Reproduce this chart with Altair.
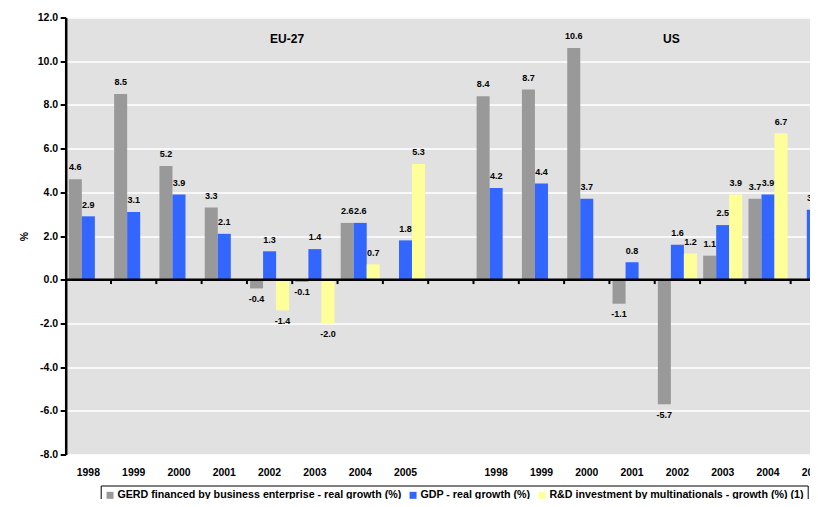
import altair as alt
import pandas as pd

years = ["1998", "1999", "2000", "2001", "2002", "2003", "2004", "2005"]
series = [
    "GERD financed by business enterprise - real growth (%)",
    "GDP - real growth (%)",
    "R&D investment by multinationals - growth (%) (1)",
]
colors = ["#999999", "#3366FF", "#FFFF99"]

eu_gerd = [4.6, 8.5, 5.2, 3.3, -0.4, -0.1, 2.6, None]
eu_gdp = [2.9, 3.1, 3.9, 2.1, 1.3, 1.4, 2.6, 1.8]
eu_mnc = [None, None, None, None, -1.4, -2.0, 0.7, 5.3]
us_gerd = [8.4, 8.7, 10.6, -1.1, -5.7, 1.1, 3.7, None]
us_gdp = [4.2, 4.4, 3.7, 0.8, 1.6, 2.5, 3.9, 3.2]
us_mnc = [None, None, None, None, 1.2, 3.9, 6.7, None]

y_ticks = [-8, -6, -4, -2, 0, 2, 4, 6, 8, 10, 12]
region_titles = ["EU-27", "US"]

eu_keys = ["E" + y for y in years]
us_keys = ["U" + y for y in years]
cats = eu_keys + ["G"] + us_keys

rows = []
for keys, vals in [(eu_keys, [eu_gerd, eu_gdp, eu_mnc]), (us_keys, [us_gerd, us_gdp, us_mnc])]:
    for s, v in zip(series, vals):
        for k, val in zip(keys, v):
            if val is not None:
                rows.append({"cat": k, "series": s, "value": val})
df = pd.DataFrame(rows)
tick_df = pd.DataFrame({"cat": cats[1:]})

FONT = "Liberation Sans"
STEP = 45.31
PLOT_W = 744.3
MINUS_FIX = "replace(format(datum.value, '.1f'), '\u2212', '-')"

xscale = alt.Scale(domain=cats, paddingInner=0, paddingOuter=0, range=[0, STEP * len(cats)])
yscale = alt.Scale(domain=[-8, 12], nice=False, zero=False)
xoff = alt.XOffset("series:N", scale=alt.Scale(domain=series, paddingOuter=0.24, paddingInner=0))
color = alt.Color(
    "series:N",
    scale=alt.Scale(domain=series, range=colors),
    legend=alt.Legend(
        title=None, orient="none", legendX=35, legendY=468, direction="horizontal",
        symbolType="square", symbolSize=49, symbolStrokeWidth=0,
        labelFont=FONT, labelFontWeight="bold", labelFontSize=10.7, labelColor="black",
        labelOffset=2, columnPadding=6, padding=4,
        strokeColor="black", fillColor="white", labelLimit=400,
    ),
)

x_axis = alt.Axis(
    title=None, domain=False, ticks=False, tickSize=0, labelPadding=13,
    labelExpr="substring(datum.label, 1)", labelFont=FONT, labelFontWeight="bold",
    labelFontSize=10.4, labelColor="black", labelAngle=0, grid=False,
)
y_axis = alt.Axis(
    title="%", values=y_ticks, format=".1f",
    labelExpr="replace(datum.label, '\u2212', '-')",
    domainColor="black", domainWidth=2.5,
    tickColor="black", tickWidth=2, tickSize=5.5, labelPadding=2.5,
    labelFont=FONT, labelFontWeight="bold", labelFontSize=10.5, labelColor="black",
    titleFont=FONT, titleFontWeight="bold", titleFontSize=10.5, titleColor="black",
    titlePadding=8, grid=True, gridColor="white", gridWidth=1.5,
)

base = alt.Chart(df).transform_calculate(lbl=MINUS_FIX)
bars = base.mark_bar().encode(
    x=alt.X("cat:N", scale=xscale, axis=x_axis, sort=cats),
    xOffset=xoff,
    y=alt.Y("value:Q", scale=yscale, axis=y_axis),
    color=color,
)
lbl = dict(font=FONT, fontWeight="bold", fontSize=9, color="black", align="center", baseline="middle")
txt_pos = base.transform_filter("datum.value >= 0").mark_text(dy=-11.7, **lbl).encode(
    x=alt.X("cat:N", scale=xscale, sort=cats),
    xOffset=xoff,
    y=alt.Y("value:Q", scale=yscale),
    text=alt.Text("lbl:N"),
)
txt_neg = base.transform_filter("datum.value < 0").mark_text(dy=10.5, **lbl).encode(
    x=alt.X("cat:N", scale=xscale, sort=cats),
    xOffset=xoff,
    y=alt.Y("value:Q", scale=yscale),
    text=alt.Text("lbl:N"),
)
zero = alt.Chart(pd.DataFrame({"v": [0]})).mark_rule(color="black", strokeWidth=2.5).encode(
    y=alt.Y("v:Q", scale=yscale)
)
ticks = alt.Chart(tick_df).mark_rule(color="black", strokeWidth=2).encode(
    x=alt.X("cat:N", scale=xscale, sort=cats, bandPosition=0),
    y=alt.datum(0),
    y2=alt.datum(-0.2),
)
ann_eu = alt.Chart(pd.DataFrame({"cat": ["E2002"], "label": [region_titles[0]], "v": [11]})).mark_text(
    font=FONT, fontWeight="bold", fontSize=12, color="black", dx=17.5, baseline="middle"
).encode(
    x=alt.X("cat:N", scale=xscale, sort=cats),
    y=alt.Y("v:Q", scale=yscale),
    text="label:N",
)
ann_us = alt.Chart(pd.DataFrame({"cat": ["U2002"], "label": [region_titles[1]], "v": [11]})).mark_text(
    font=FONT, fontWeight="bold", fontSize=12, color="black", dx=-6, baseline="middle"
).encode(
    x=alt.X("cat:N", scale=xscale, sort=cats),
    y=alt.Y("v:Q", scale=yscale),
    text="label:N",
)

chart = alt.layer(bars, zero, ticks, txt_pos, txt_neg, ann_eu, ann_us).properties(
    width=PLOT_W, height=437,
    autosize=alt.AutoSizeParams(type="none"),
    padding={"left": 57.7, "top": 9.5, "right": 0, "bottom": 44.5},
    background="white",
).configure_view(fill="#E1E1E1", stroke=None)

chart.save("out.html", embed_options={"renderer": "svg", "actions": False})
